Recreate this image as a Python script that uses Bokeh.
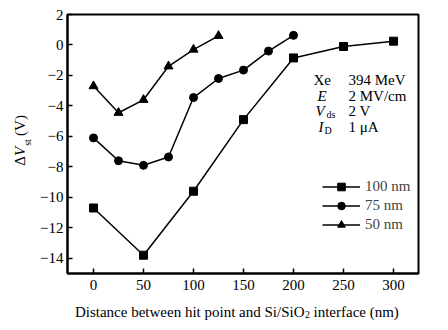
import numpy as np
from bokeh.plotting import figure
from bokeh.layouts import row, column
from bokeh.models import Label, Legend, LegendItem, Range1d, FixedTicker
from bokeh.embed import file_html
from bokeh.resources import INLINE

# ---- data ----
x100 = [0, 50, 100, 150, 200, 250, 300]
y100 = [-10.7, -13.8, -9.6, -4.9, -0.85, -0.1, 0.25]
x75 = [0, 25, 50, 75, 100, 125, 150, 175, 200]
y75 = [-6.1, -7.6, -7.9, -7.35, -3.45, -2.2, -1.65, -0.4, 0.63]
x50 = [0, 25, 50, 75, 100, 125]
y50 = [-2.7, -4.45, -3.6, -1.4, -0.3, 0.6]
series_labels = ["100 nm", "75 nm", "50 nm"]
x_ticks = [0, 50, 100, 150, 200, 250, 300]
y_ticks = [-14, -12, -10, -8, -6, -4, -2, 0, 2]
cond_names = ["Xe", "E", "V", "I"]
cond_subs = ["", "", "ds", "D"]
cond_values = ["394 MeV", "2 MV/cm", "2 V", "1 \u03bcA"]

FONT = "Liberation Serif"
FS = "15px"
SUB = "10px"
XMIN, XMAX, YMIN, YMAX = -26, 325, -15, 2
W, H = 448, 330
L, R, T, B = 67, 418, 14, 273
YLW = 34          # width of the y-label strip
MAINH = 300       # height of the main figure
XLH = H - MAINH   # height of the x-label strip

p = figure(width=W - YLW, height=MAINH, x_range=Range1d(XMIN, XMAX), y_range=Range1d(YMIN, YMAX),
           output_backend="svg", toolbar_location=None,
           min_border_left=L - YLW, min_border_right=W - R, min_border_top=T,
           min_border_bottom=MAINH - B)
p.grid.visible = False
p.outline_line_color = "black"
p.outline_line_width = 2
p.outline_line_alpha = 1

for ax in (p.xaxis[0], p.yaxis[0]):
    ax.axis_line_width = 2
    ax.axis_line_color = "black"
    ax.major_tick_in = 5
    ax.major_tick_out = 0
    ax.major_tick_line_width = 1.5
    ax.minor_tick_line_color = None
    ax.major_label_text_font = FONT
    ax.major_label_text_font_size = FS
    ax.major_label_text_color = "black"

p.xaxis.ticker = FixedTicker(ticks=x_ticks)
p.yaxis.ticker = FixedTicker(ticks=y_ticks)
p.yaxis.major_label_overrides = {t: (str(t).replace("-", "\u2212")) for t in y_ticks}
p.yaxis.major_label_standoff = 4
p.xaxis.major_label_standoff = 6

lw = 1.5
r100 = p.line(x100, y100, line_color="black", line_width=lw)
m100 = p.scatter(x100, y100, marker="square", size=8, color="black")
r75 = p.line(x75, y75, line_color="black", line_width=lw)
m75 = p.scatter(x75, y75, marker="circle", size=8, color="black")
r50 = p.line(x50, y50, line_color="black", line_width=lw)
m50 = p.scatter(x50, y50, marker="triangle", size=9, color="black")

legend = Legend(items=[LegendItem(label=series_labels[0], renderers=[r100, m100]),
                       LegendItem(label=series_labels[1], renderers=[r75, m75]),
                       LegendItem(label=series_labels[2], renderers=[r50, m50])],
                location=(322 - L, B - 234), glyph_width=38, glyph_height=19, label_height=19,
                spacing=0, padding=0, margin=0, label_standoff=5,
                border_line_alpha=0, background_fill_alpha=0,
                label_text_font=FONT, label_text_font_size=FS)
p.add_layout(legend)

def lab(fig, sx, sy, text, size=FS, style="normal", align="left", baseline="alphabetic", angle=0):
    fig.add_layout(Label(x=sx, y=sy, x_units="screen", y_units="screen",
                         text=text, text_font=FONT, text_font_size=size,
                         text_font_style=style, text_align=align, text_baseline=baseline,
                         angle=angle, text_color="black"))

# conditions block (page pixel coords -> frame-relative screen coords)
name_x = [313, 317, 315, 318]
sub_x = [0, 0, 326, 324]
base_y = [79, 95, 110.5, 126]
for i in range(4):
    lab(p, name_x[i] - L, B - base_y[i], cond_names[i], style="normal" if i == 0 else "italic")
    if cond_subs[i]:
        lab(p, sub_x[i] - L, B - (base_y[i] + 3.5), cond_subs[i], size=SUB)
    lab(p, 348 - L, B - base_y[i], cond_values[i])

def strip(w, h):
    f = figure(width=w, height=h, x_range=Range1d(0, w), y_range=Range1d(0, h),
               x_axis_type=None, y_axis_type=None, output_backend="svg", toolbar_location=None,
               min_border=0)
    f.grid.visible = False
    f.outline_line_color = None
    return f

# y axis label strip (its frame is aligned with the main frame: bottom at page y = B)
yl = strip(YLW, MAINH)
ang = np.pi / 2
lab(yl, 19, B - 160.5, "\u0394", align="center", baseline="middle", angle=ang)
lab(yl, 19, B - 151, "V", style="italic", align="center", baseline="middle", angle=ang)
lab(yl, 27, B - 142, "st", size=SUB, align="center", baseline="middle", angle=ang)
lab(yl, 19, B - 125, "(V)", align="center", baseline="middle", angle=ang)

# x axis label strip
xl = strip(W, XLH)
lab(xl, 304, H - 311, "Distance between hit point and Si/SiO", align="right")
lab(xl, 304.5, H - 314, "2", size=SUB)
lab(xl, 313, H - 311, "interface (nm)")

layout = column(row(yl, p, spacing=0), xl, spacing=0)
open("out.html", "w").write(file_html(layout, INLINE))
